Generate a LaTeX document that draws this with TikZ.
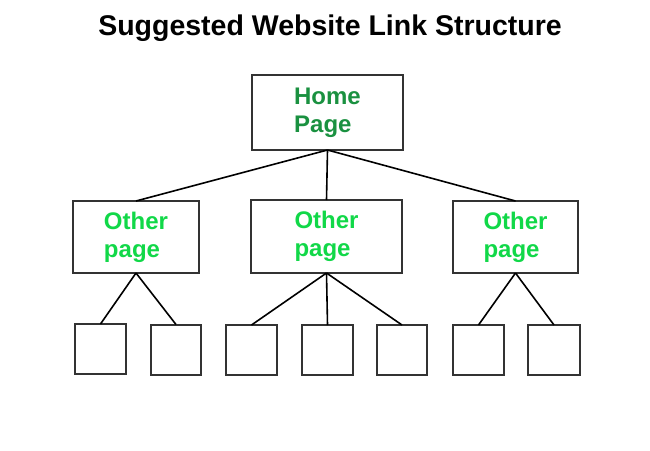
\documentclass[tikz,border=0pt]{standalone}
\usepackage{fontspec}
\setmainfont{Liberation Sans}
\definecolor{homegreen}{HTML}{1A9140}
\definecolor{othergreen}{HTML}{11D848}
\definecolor{boxgray}{HTML}{333333}
\begin{document}
\begin{tikzpicture}[x=1pt,y=-1pt,
  pagebox/.style={draw=boxgray, line width=2pt, fill=white, inner sep=0pt, outer sep=0pt,
    align=left, font=\fontsize{24}{28}\selectfont\bfseries},
  leafbox/.style={draw=boxgray, line width=2pt, fill=white, inner sep=0pt, outer sep=0pt,
    minimum width=51pt, minimum height=50pt},
  link/.style={draw=black, line width=1.6pt}]
\useasboundingbox (0,0) rectangle (650,450);
\node[font=\fontsize{28.5}{32}\selectfont\bfseries] (title) at (330,28.5) {Suggested Website Link Structure};
\node[pagebox, text=homegreen, minimum width=151pt, minimum height=75pt] (home) at (327.5,112.5) {Home\\Page};
\node[pagebox, text=othergreen, minimum width=126pt, minimum height=72pt] (o1) at (136,237) {Other\\page};
\node[pagebox, text=othergreen, minimum width=151pt, minimum height=73pt] (o2) at (326.5,236.5) {Other\\page};
\node[pagebox, text=othergreen, minimum width=125pt, minimum height=72pt] (o3) at (515.5,237) {Other\\page};
\node[leafbox] (a1) at (100.5,349) {};
\node[leafbox, minimum width=50pt] (a2) at (176,349.5) {};
\node[leafbox] (b1) at (251.5,350) {};
\node[leafbox] (b2) at (327.5,350) {};
\node[leafbox, minimum width=50pt] (b3) at (402,350) {};
\node[leafbox] (c1) at (478.5,350) {};
\node[leafbox, minimum width=52pt] (c2) at (554,350) {};
\draw[link] (home.south) -- (o1.north);
\draw[link] (home.south) -- (o2.north);
\draw[link] (home.south) -- (o3.north);
\draw[link] (o1.south) -- (a1.north);
\draw[link] (o1.south) -- (a2.north);
\draw[link] (o2.south) -- (b1.north);
\draw[link] (o2.south) -- (b2.north);
\draw[link] (o2.south) -- (b3.north);
\draw[link] (o3.south) -- (c1.north);
\draw[link] (o3.south) -- (c2.north);
\end{tikzpicture}
\end{document}
